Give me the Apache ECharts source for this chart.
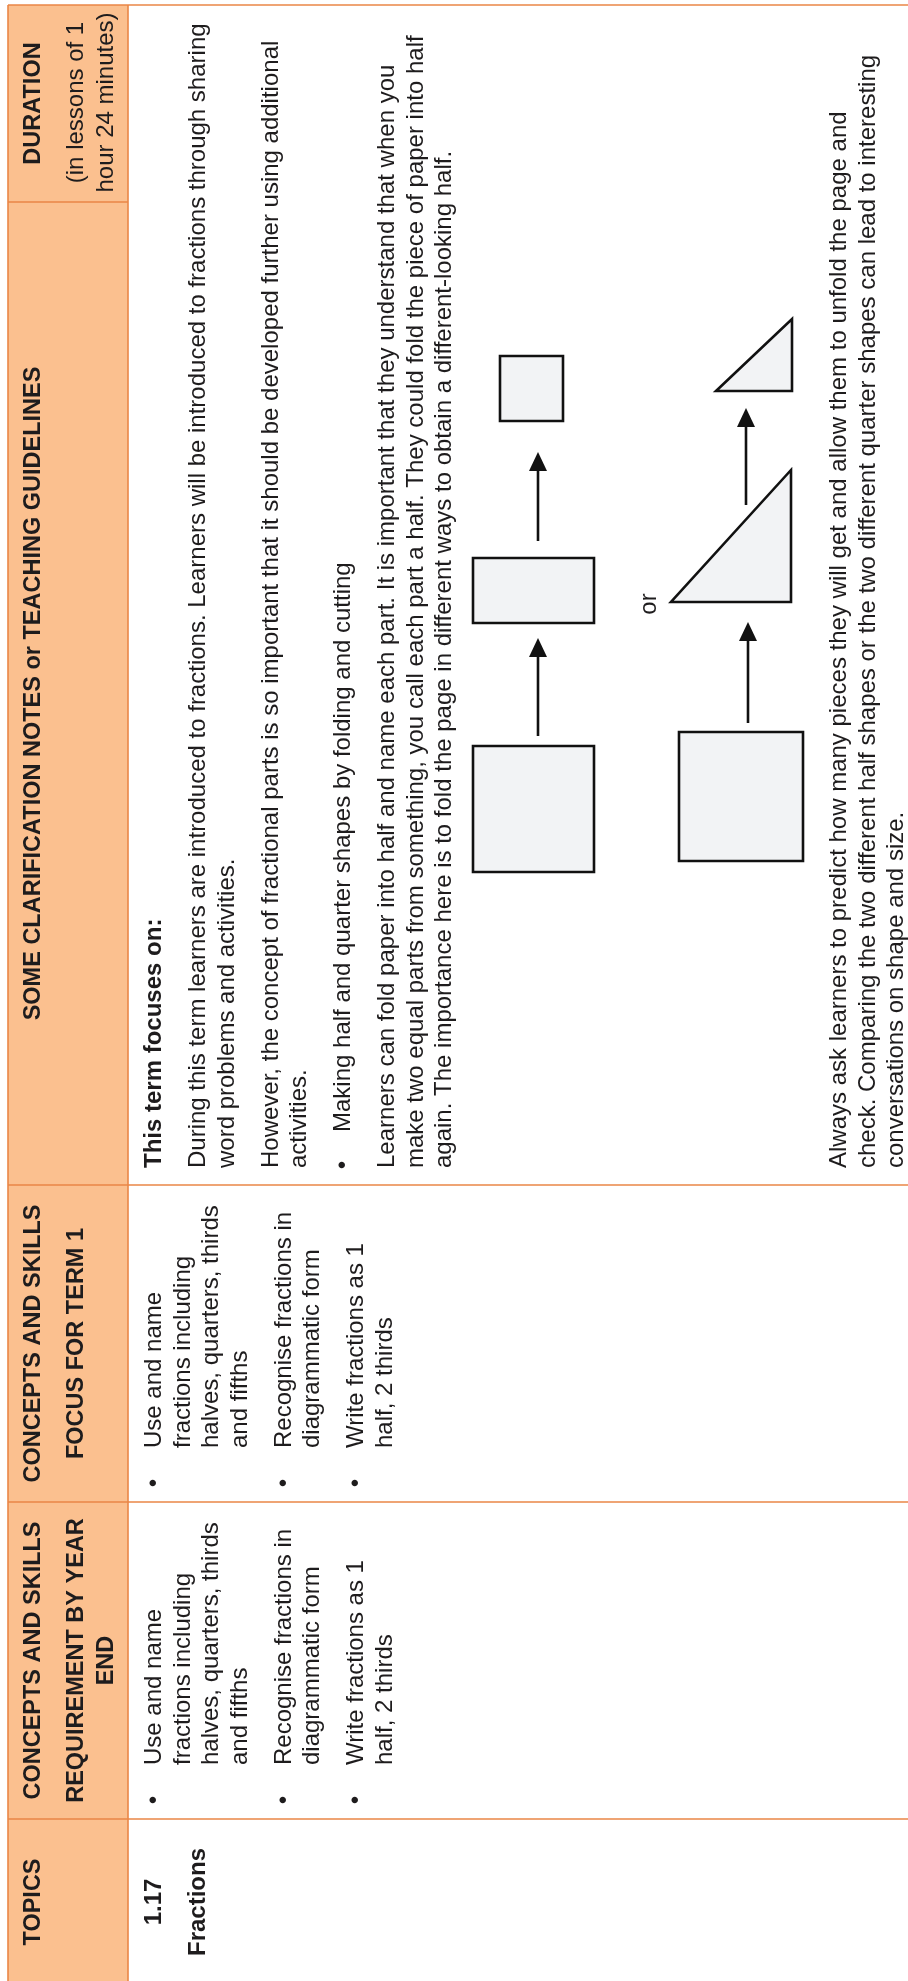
<!DOCTYPE html>
<html>
<head>
<meta charset="utf-8">
<script src="https://cdn.jsdelivr.net/npm/echarts@6/dist/echarts.min.js"></script>
<style>
html,body{margin:0;padding:0;background:#ffffff;}
#chart{width:908px;height:1981px;}
</style>
</head>
<body>
<div id="chart"></div>
<script>
// ---------------- DATA ----------------
const columnKeys = ['topics', 'requirement', 'focus', 'notes', 'duration'];
const columnWidths = [166, 317, 317, 983, 197];

const headerTopics = [['TOPICS']];
const headerRequirement = [['CONCEPTS AND SKILLS'], ['REQUIREMENT BY YEAR', 'END']];
const headerFocus = [['CONCEPTS AND SKILLS'], ['FOCUS FOR TERM 1']];
const headerNotes = [['SOME CLARIFICATION NOTES or TEACHING GUIDELINES']];
const headerDuration = [['DURATION']];
const durationNote = ['(in lessons of 1', 'hour 24 minutes)'];

const topicLines = [['1.17'], ['Fractions']];

const requirementBullets = [
  ['Use and name', 'fractions including', 'halves, quarters, thirds', 'and fifths'],
  ['Recognise fractions in', 'diagrammatic form'],
  ['Write fractions as 1', 'half, 2 thirds']
];
const focusBullets = [
  ['Use and name', 'fractions including', 'halves, quarters, thirds', 'and fifths'],
  ['Recognise fractions in', 'diagrammatic form'],
  ['Write fractions as 1', 'half, 2 thirds']
];

const notesHeading = 'This term focuses on:';
const notesParagraphs = [
  ['During this term learners are introduced to fractions. Learners will be introduced to fractions through sharing',
   'word problems and activities.'],
  ['However, the concept of fractional parts is so important that it should be developed further using additional',
   'activities.']
];
const notesBullet = ['Making half and quarter shapes by folding and cutting'];
const notesFolding = [
  'Learners can fold paper into half and name each part. It is important that they understand that when you',
  'make two equal parts from something, you call each part a half. They could fold the piece of paper into half',
  'again. The importance here is to fold the page in different ways to obtain a different-looking half.'
];
const diagramOr = 'or';
const notesClosing = [
  'Always ask learners to predict how many pieces they will get and allow them to unfold the page and',
  'check. Comparing the two different half shapes or the two different quarter shapes can lead to interesting',
  'conversations on shape and size.'
];

// ---------------- STYLE / LAYOUT ----------------
const TXT = '#1e1c1d';
const HEAD_FILL = '#fbc08f';
const BORDER = '#ea8646';
const SHAPE_FILL = '#f2f3f5';
const INK = '#111111';
const FONT = '"Liberation Sans", Arial, Helvetica, sans-serif';
const FS = 24, HFS = 23.5;
const MID = 0.345;
const HEADER_H = 120, TABLE_H = 900;

const colStart = [0];
columnWidths.forEach(function (w, i) { colStart.push(colStart[i] + w); });
const TW = colStart[colStart.length - 1];

function txt(str, u, baseline, size, bold, align) {
  return {
    type: 'text', x: u, y: baseline - MID * size,
    style: {
      text: str,
      font: (bold ? 'bold ' : '') + size + 'px ' + FONT,
      fill: TXT,
      textAlign: align || 'left',
      textVerticalAlign: 'middle'
    }
  };
}
function layoutParas(paras, first, step, gap, fn) {
  let b = first;
  paras.forEach(function (p, pi) {
    if (pi > 0) b += gap;
    p.forEach(function (line, li) {
      if (li > 0) b += step;
      fn(line, b, li, pi);
    });
  });
  return b;
}
function line(u1, v1, u2, v2, color, w) {
  return { type: 'line', shape: { x1: u1, y1: v1, x2: u2, y2: v2 },
    style: { stroke: color || BORDER, lineWidth: w || 1.6 } };
}

const els = [];
// header band
els.push({ type: 'rect', shape: { x: 0, y: 0, width: TW, height: HEADER_H }, style: { fill: HEAD_FILL } });
// borders
els.push(line(0, 0, TW, 0));
els.push(line(0, HEADER_H, TW, HEADER_H));
els.push(line(TW, 0, TW, TABLE_H));
for (let i = 1; i < columnWidths.length; i++) els.push(line(colStart[i], 0, colStart[i], HEADER_H));
for (let i = 1; i < 4; i++) els.push(line(colStart[i], HEADER_H, colStart[i], TABLE_H));

// headers
const headers = [headerTopics, headerRequirement, headerFocus, headerNotes, headerDuration];
headers.forEach(function (h, ci) {
  const c = colStart[ci] + columnWidths[ci] / 2;
  let last = layoutParas(h, 34, 30, 43, function (ln, b) { els.push(txt(ln, c, b, HFS, true, 'center')); });
  if (ci === 4) {
    layoutParas([durationNote], last + 43, 30, 43, function (ln, b) { els.push(txt(ln, c + 1, b, FS, false, 'center')); });
  }
});

// body: topics
const BODY0 = 155, STEP = 28.5, GAP = 44;
layoutParas(topicLines, BODY0, STEP, GAP, function (ln, b) {
  els.push(txt(ln, colStart[0] + columnWidths[0] / 2, b, FS, true, 'center'));
});
// body: bullet columns
[[requirementBullets, 1], [focusBullets, 2]].forEach(function (pair) {
  const cs = colStart[pair[1]];
  layoutParas(pair[0], BODY0, STEP, GAP, function (ln, b, li) {
    if (li === 0) els.push(txt('\u2022', cs + 19, b, FS, false, 'center'));
    els.push(txt(ln, cs + 54, b, FS, false, 'left'));
  });
});
// body: notes
const ns = colStart[3];
let nb = BODY0;
els.push(txt(notesHeading, ns + 17, nb, FS, true, 'left'));
nb = layoutParas(notesParagraphs, nb + GAP, STEP, GAP, function (ln, b) { els.push(txt(ln, ns + 17, b, FS, false, 'left')); });
nb = layoutParas([notesBullet], nb + GAP, STEP, GAP, function (ln, b, li) {
  if (li === 0) els.push(txt('\u2022', ns + 20, b, FS, false, 'center'));
  els.push(txt(ln, ns + 53, b, FS, false, 'left'));
});
nb = layoutParas([notesFolding], nb + GAP, STEP, GAP, function (ln, b) { els.push(txt(ln, ns + 17, b, FS, false, 'left')); });
layoutParas([notesClosing], 840, STEP, GAP, function (ln, b) { els.push(txt(ln, ns + 17, b, FS, false, 'left')); });

// diagram (local coordinates inside the notes cell)
function box(u1, u2, v1, v2) {
  return { type: 'rect', shape: { x: u1, y: v1, width: u2 - u1, height: v2 - v1 },
    style: { fill: SHAPE_FILL, stroke: INK, lineWidth: 2.6 } };
}
function tri(pts) {
  return { type: 'polygon', shape: { points: pts }, style: { fill: SHAPE_FILL, stroke: INK, lineWidth: 2.6, lineJoin: 'miter' } };
}
function arrow(v, uTail, uTip) {
  return [
    { type: 'line', shape: { x1: uTail, y1: v, x2: uTip - 16, y2: v }, style: { stroke: INK, lineWidth: 2.6 } },
    { type: 'polygon', shape: { points: [[uTip, v], [uTip - 19, v - 9], [uTip - 19, v + 9]] }, style: { fill: INK } }
  ];
}
// top sequence: square -> half rectangle -> quarter square
els.push(box(1113, 1239, 465, 586));
arrow(530, 1249, 1347).forEach(function (e) { els.push(e); });
els.push(box(1362, 1427, 465, 586));
arrow(530, 1444, 1533).forEach(function (e) { els.push(e); });
els.push(box(1564, 1629, 492, 555));
// bottom sequence: square -> half triangle -> quarter triangle
els.push(box(1124, 1253, 671, 795));
arrow(740, 1262, 1363).forEach(function (e) { els.push(e); });
els.push(tri([[1383, 663], [1383, 783], [1515, 783]]));
arrow(738, 1480, 1577).forEach(function (e) { els.push(e); });
els.push(tri([[1594, 708], [1594, 784], [1666, 784]]));
els.push(txt(diagramOr, 1381, 650, FS, false, 'center'));

const chart = echarts.init(document.getElementById('chart'), null, { renderer: 'canvas' });
chart.setOption({
  backgroundColor: '#ffffff',
  animation: false,
  graphic: [{
    type: 'group',
    x: 8, y: 1985,
    rotation: Math.PI / 2,
    children: els
  }]
});
</script>
</body>
</html>
